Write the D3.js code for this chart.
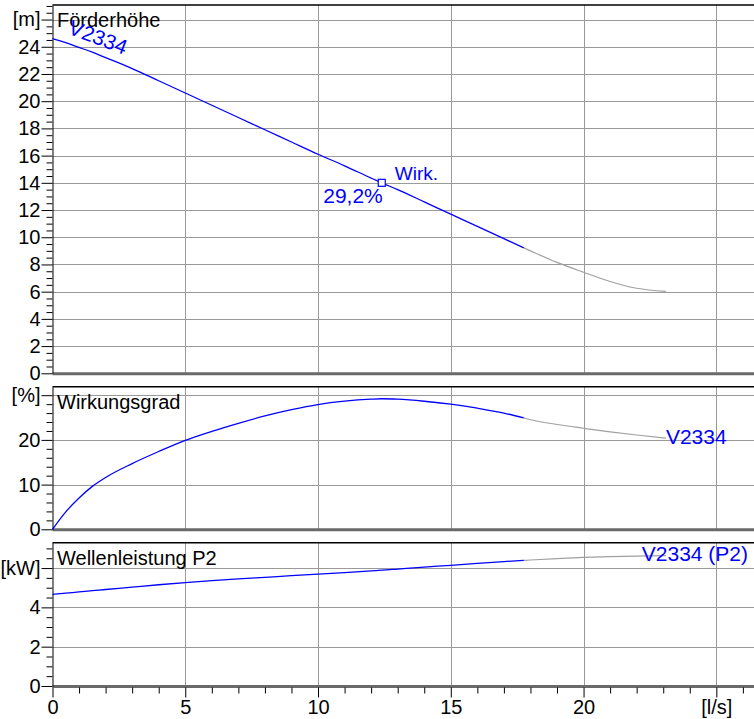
<!DOCTYPE html>
<html>
<head>
<meta charset="utf-8">
<script src="https://cdn.jsdelivr.net/npm/d3@7"></script>
<style>
	body { margin: 0; background: #fff; }
	svg { display: block; }
	text { font-family: "Liberation Sans", Arial, sans-serif; }
</style>
</head>
<body>
<svg id="chart"></svg>
<script>
'use strict';

// flow rate Q [l/s]
var flow = [0, 0.5, 1, 1.5, 2, 3, 4, 5, 6, 7, 8, 9, 10, 11, 12, 12.4, 13, 14, 15, 16, 17, 17.75, 18, 19, 20, 21, 22, 23.1];

// head H [m]
var head = [24.6, 24.3, 23.95, 23.6, 23.2, 22.4, 21.5, 20.6, 19.7, 18.8, 17.9, 17.0, 16.1, 15.25, 14.35, 14.0, 13.5, 12.6, 11.7, 10.8, 9.9, 9.22, 9.0, 8.15, 7.43, 6.75, 6.25, 6.02];

// efficiency [%]
var efficiency = [0, 3.9, 7.0, 9.6, 11.6, 14.7, 17.4, 19.9, 21.9, 23.7, 25.35, 26.75, 27.9, 28.65, 29.1, 29.2, 29.1, 28.65, 28.0, 27.1, 26.0, 24.9, 24.5, 23.45, 22.6, 21.8, 21.1, 20.4];

// shaft power P2 [kW]
var power = [4.66, 4.72, 4.79, 4.85, 4.91, 5.03, 5.15, 5.26, 5.36, 5.45, 5.53, 5.61, 5.69, 5.77, 5.86, 5.89, 5.95, 6.05, 6.14, 6.24, 6.33, 6.39, 6.41, 6.48, 6.54, 6.58, 6.61, 6.63];

// end of the blue (operating) range, the rest is drawn gray
var flowLimit = 17.75;

// duty point
var dutyFlow = 12.4;
var dutyHead = 14.0;
var dutyLabel = 'Wirk.';
var dutyEffLabel = '29,2%';

var pumpName = 'V2334';

// x-axis ticks
var xMajor = [0, 5, 10, 15, 20, 25];
var xUnit = '[l/s]';

var width = 754, height = 719;
var blue = '#0000ff';

var svg = d3.select('#chart')
	.attr('width', width)
	.attr('height', height);

// define x-scale (shared by all panels)
var x = d3.scaleLinear()
	.domain([0, 26.4])
	.range([52.5, 753.5]);

var xMinor = d3.range(0, 26.01, 1).filter(function(d) { return xMajor.indexOf(d) < 0; });

var panels = [
	{ title: 'Förderhöhe', unit: '[m]', values: head, top: 5, bottom: 373.3, max: 27.07, step: 2, minor: 0.5 },
	{ title: 'Wirkungsgrad', unit: '[%]', values: efficiency, top: 386.7, bottom: 529.3, max: 31.9, step: 10, minor: 2 },
	{ title: 'Wellenleistung P2', unit: '[kW]', values: power, top: 542.7, bottom: 686, max: 7.29, step: 2, minor: 0.5 }
];

var pairs = function(values) {
	return flow.map(function(q, i) { return [q, values[i]]; });
};

panels.forEach(function(p) {
	var g = svg.append('g').attr('class', 'panel');

	var y = d3.scaleLinear()
		.domain([0, p.max])
		.range([p.bottom, p.top]);
	p.y = y;

	var majors = d3.range(0, p.max + 1e-6, p.step);
	var minors = d3.range(0, p.max + 1e-6, p.minor).filter(function(d) {
		return Math.abs(d / p.step - Math.round(d / p.step)) > 1e-6;
	});

	// horizontal grid
	g.append('g').selectAll('line').data(majors.slice(1))
		.join('line')
		.attr('x1', x(0)).attr('x2', width)
		.attr('y1', function(d) { return Math.round(y(d)) + 0.5; })
		.attr('y2', function(d) { return Math.round(y(d)) + 0.5; })
		.attr('stroke', '#9a9a9a');

	// vertical grid
	g.append('g').selectAll('line').data(xMajor.slice(1))
		.join('line')
		.attr('x1', function(d) { return Math.round(x(d)) + 0.5; })
		.attr('x2', function(d) { return Math.round(x(d)) + 0.5; })
		.attr('y1', p.top).attr('y2', p.bottom)
		.attr('stroke', '#9a9a9a');

	// bottom base line
	g.append('line')
		.attr('x1', x(0)).attr('x2', width)
		.attr('y1', p.bottom + 0.5).attr('y2', p.bottom + 0.5)
		.attr('stroke', '#6a6a6a').attr('stroke-width', 3);

	// top border
	g.append('line')
		.attr('x1', x(0)).attr('x2', width)
		.attr('y1', p.top).attr('y2', p.top)
		.attr('stroke', '#000').attr('stroke-width', 1.5);

	// y-axis minor ticks
	g.append('g')
		.attr('transform', 'translate(' + x(0) + ',0)')
		.call(d3.axisLeft(y).tickValues(minors).tickSize(6).tickSizeOuter(0).tickFormat(''))
		.call(function(a) { a.select('.domain').remove(); });

	// y-axis major ticks, unit label replaces the top value
	var yAxis = d3.axisLeft(y)
		.tickValues(majors)
		.tickSize(11)
		.tickSizeOuter(0)
		.tickPadding(1)
		.tickFormat(function(d, i) { return i === majors.length - 1 ? p.unit : d; });
	g.append('g')
		.attr('transform', 'translate(' + x(0) + ',0)')
		.call(yAxis)
		.call(function(a) {
			a.selectAll('line, path').attr('stroke', '#000');
			a.selectAll('text').attr('font-size', 20).attr('fill', '#000')
				.attr('font-family', '"Liberation Sans", Arial, sans-serif');
		});

	// title
	g.append('text')
		.attr('x', 57)
		.attr('y', p.top + 22)
		.attr('font-size', 20)
		.text(p.title);

	// curve, blue in the operating range, gray beyond
	var line = d3.line()
		.x(function(d) { return x(d[0]); })
		.y(function(d) { return y(d[1]); })
		.curve(d3.curveMonotoneX);
	var pts = pairs(p.values);
	g.append('path')
		.datum(pts.filter(function(d) { return d[0] >= flowLimit; }))
		.attr('d', line)
		.attr('fill', 'none').attr('stroke', '#a0a0a0').attr('stroke-width', 1.2);
	g.append('path')
		.datum(pts.filter(function(d) { return d[0] <= flowLimit; }))
		.attr('d', line)
		.attr('fill', 'none').attr('stroke', blue).attr('stroke-width', 1.3);
});

// --------------Labels----------------

var pH = panels[0], pE = panels[1], pP = panels[2];

// rotated pump name along the head curve
svg.append('text')
	.attr('transform', 'translate(' + x(0.55) + ',' + pH.y(25.0) + ') rotate(21)')
	.attr('font-size', 21)
	.attr('fill', blue)
	.text(pumpName);

// duty point marker
svg.append('rect')
	.attr('x', x(dutyFlow) - 3.5)
	.attr('y', pH.y(dutyHead) - 3.5)
	.attr('width', 7).attr('height', 7)
	.attr('fill', '#fff').attr('stroke', blue).attr('stroke-width', 1.2);

svg.append('text')
	.attr('x', x(dutyFlow) + 13)
	.attr('y', pH.y(dutyHead) - 3)
	.attr('font-size', 19)
	.attr('fill', blue)
	.text(dutyLabel);

svg.append('text')
	.attr('x', x(dutyFlow) + 1)
	.attr('y', pH.y(dutyHead) + 20)
	.attr('text-anchor', 'end')
	.attr('font-size', 21)
	.attr('fill', blue)
	.text(dutyEffLabel);

// pump name at the end of the efficiency curve
svg.append('text')
	.attr('x', x(flow[flow.length - 1]))
	.attr('y', pE.y(efficiency[efficiency.length - 1]) + 6)
	.attr('font-size', 21)
	.attr('fill', blue)
	.text(pumpName);

// pump name on the power panel
svg.append('text')
	.attr('x', 748)
	.attr('y', pP.y(6.35))
	.attr('text-anchor', 'end')
	.attr('font-size', 21)
	.attr('fill', blue)
	.text(pumpName + ' (P2)');

// --------------x-axis----------------

var xAxisG = svg.append('g')
	.attr('transform', 'translate(0,' + (pP.bottom + 1.5) + ')');

xAxisG.append('g')
	.call(d3.axisBottom(x).tickValues(xMinor).tickSize(6).tickSizeOuter(0).tickFormat(''))
	.call(function(a) { a.select('.domain').remove(); a.selectAll('line').attr('stroke', '#000'); });

xAxisG.append('g')
	.call(d3.axisBottom(x)
		.tickValues(xMajor)
		.tickSize(10)
		.tickSizeOuter(0)
		.tickPadding(2)
		.tickFormat(function(d) { return d === 25 ? xUnit : d; }))
	.call(function(a) {
		a.select('.domain').remove();
		a.selectAll('line').attr('stroke', '#000');
		a.selectAll('text').attr('font-size', 20).attr('fill', '#000')
			.attr('font-family', '"Liberation Sans", Arial, sans-serif');
	});
</script>
</body>
</html>
